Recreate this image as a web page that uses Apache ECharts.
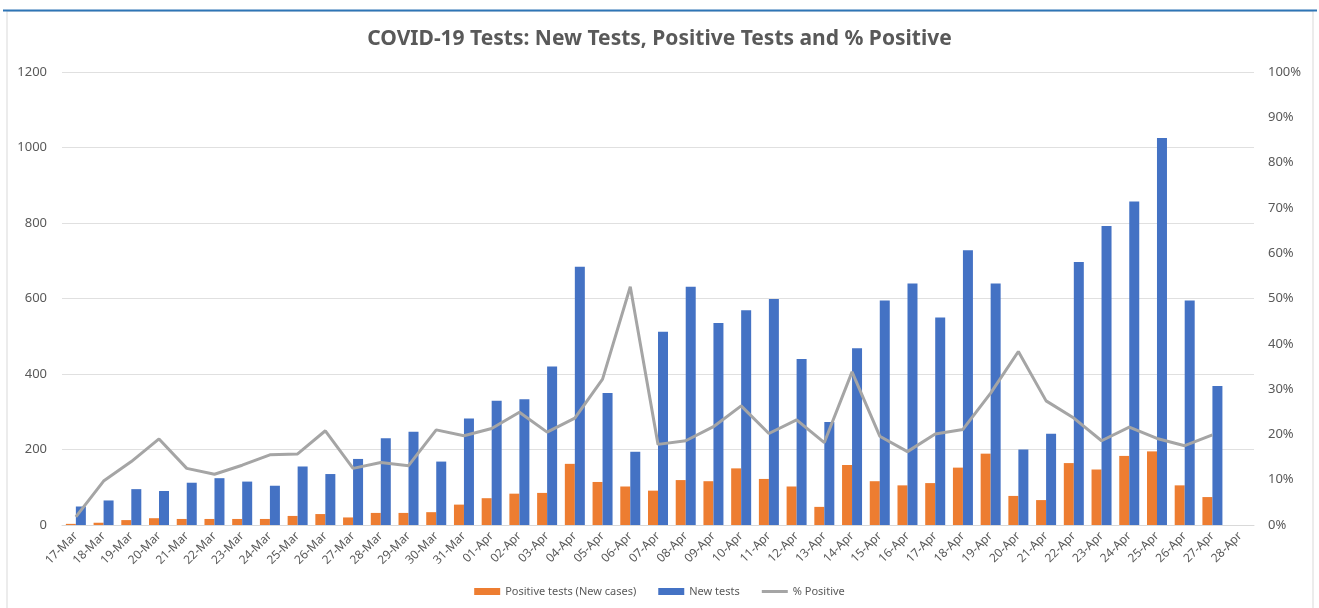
<!DOCTYPE html>
<html>
<head>
<meta charset="utf-8">
<title>COVID-19 Tests</title>
<script src="https://cdn.jsdelivr.net/npm/echarts@6/dist/echarts.min.js"></script>
<style>
  html, body { margin: 0; padding: 0; background: #fff; }
  #main { width: 1319px; height: 608px; }
</style>
</head>
<body>
<div id="main"></div>
<script>
// dates (last one has no data, Excel shows it anyway)
var days = ['17-Mar','18-Mar','19-Mar','20-Mar','21-Mar','22-Mar','23-Mar','24-Mar','25-Mar','26-Mar',
  '27-Mar','28-Mar','29-Mar','30-Mar','31-Mar','01-Apr','02-Apr','03-Apr','04-Apr','05-Apr',
  '06-Apr','07-Apr','08-Apr','09-Apr','10-Apr','11-Apr','12-Apr','13-Apr','14-Apr','15-Apr',
  '16-Apr','17-Apr','18-Apr','19-Apr','20-Apr','21-Apr','22-Apr','23-Apr','24-Apr','25-Apr',
  '26-Apr','27-Apr','28-Apr'];

// positive tests (new cases)
var positive = [3, 6, 13, 18, 16, 16, 16, 16, 24, 29,
  20, 32, 32, 34, 54, 71, 83, 85, 162, 114,
  102, 91, 119, 116, 150, 122, 102, 48, 159, 116,
  105, 111, 152, 189, 77, 66, 164, 147, 183, 195,
  105, 74, null];

// new tests
var newTests = [49, 65, 95, 90, 112, 124, 115, 104, 155, 135,
  175, 230, 247, 168, 282, 329, 333, 420, 684, 350,
  194, 512, 631, 535, 569, 599, 440, 273, 468, 595,
  640, 550, 728, 640, 200, 242, 697, 792, 857, 1025,
  595, 368, null];

// % positive
var pctPositive = [1.8, 9.7, 14, 19, 12.5, 11.2, 13.2, 15.5, 15.7, 20.8,
  12.5, 13.8, 13.1, 21, 19.7, 21.3, 24.9, 20.5, 23.6, 32.2,
  52.6, 17.8, 18.6, 21.7, 26.3, 20.2, 23.2, 18.2, 33.8, 19.6,
  16.2, 20.1, 21.1, 29.1, 38.3, 27.4, 23.6, 18.6, 21.6, 19.1,
  17.5, 19.9, null];

var txt = '#595959';
var font = 'Noto Sans';

var option = {
    animation: false,
    backgroundColor: '#fff',
    textStyle: { fontFamily: font },
    title: {
        text: 'COVID-19 Tests: New Tests, Positive Tests and % Positive',
        left: 'center',
        top: 24,
        textStyle: { color: txt, fontSize: 21, fontWeight: 'bold', fontFamily: font }
    },
    graphic: [
        { type: 'rect', shape: { x: 7, y: 11, width: 1306, height: 620 },
          style: { fill: 'none', stroke: '#d9d9d9', lineWidth: 1 } },
        { type: 'line', shape: { x1: 3, y1: 10.5, x2: 1317, y2: 10.5 },
          style: { stroke: '#2e75b6', lineWidth: 2 } }
    ],
    legend: {
        bottom: 6,
        left: 'center',
        itemWidth: 26,
        itemHeight: 7,
        itemGap: 22,
        textStyle: { color: txt, fontSize: 11 },
        data: [
            { name: 'Positive tests (New cases)', icon: 'rect' },
            { name: 'New tests', icon: 'rect' },
            { name: '% Positive', icon: 'path://M0,0 L26,0 L26,3 L0,3 Z' }
        ]
    },
    grid: { left: 62, right: 65, top: 72, bottom: 83 },
    xAxis: {
        type: 'category',
        data: days,
        axisLine: { lineStyle: { color: '#d9d9d9' } },
        axisTick: { lineStyle: { color: '#d9d9d9' }, length: 5 },
        axisLabel: { color: txt, fontSize: 12, rotate: 45, interval: 0, margin: 9 }
    },
    yAxis: [
        {
            type: 'value',
            min: 0, max: 1200, interval: 200,
            axisLine: { show: false },
            axisTick: { show: false },
            axisLabel: { color: txt, fontSize: 13, margin: 15, formatter: function (v) { return String(v); } },
            splitLine: { lineStyle: { color: '#e0e0e0' } }
        },
        {
            type: 'value',
            min: 0, max: 100, interval: 10,
            axisLine: { show: false },
            axisTick: { show: false },
            axisLabel: { color: txt, fontSize: 13, margin: 14, formatter: '{value}%' },
            splitLine: { show: false }
        }
    ],
    series: [
        {
            name: 'Positive tests (New cases)',
            type: 'bar',
            data: positive,
            barWidth: 10,
            barGap: '0%',
            itemStyle: { color: '#ED7D31' }
        },
        {
            name: 'New tests',
            type: 'bar',
            data: newTests,
            barWidth: 10,
            barGap: '0%',
            itemStyle: { color: '#4472C4' }
        },
        {
            name: '% Positive',
            type: 'line',
            yAxisIndex: 1,
            data: pctPositive,
            symbol: 'none',
            lineStyle: { color: '#A5A5A5', width: 3 },
            itemStyle: { color: '#A5A5A5' }
        }
    ]
};

var myChart = echarts.init(document.getElementById('main'));
myChart.setOption(option);
</script>
</body>
</html>
